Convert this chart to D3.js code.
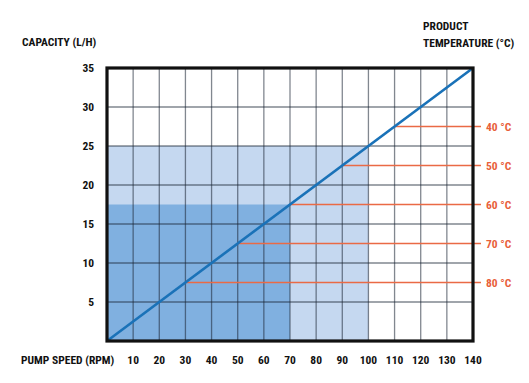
<!DOCTYPE html>
<html lang="en">
    <head>
        <meta charset="UTF-8" />
        <title>Pump capacity</title>
        <script src="https://d3js.org/d3.v7.min.js"></script>
        <style>
            body { margin: 0; background: #fff; }
            text {
                font-family: "Liberation Sans Narrow", "Arial Narrow", "Roboto Condensed", sans-serif;
                font-weight: bold;
                font-size: 11.5px;
                fill: #111;
            }
        </style>
    </head>
    <body>
        <div class="canvas"></div>
        <script>
            // data
            const speedTicks = [10, 20, 30, 40, 50, 60, 70, 80, 90, 100, 110, 120, 130, 140];
            const capacityTicks = [5, 10, 15, 20, 25, 30, 35];
            const pumpLine = [[0, 0], [140, 35]]; // rpm, L/h
            const temps = ["40 °C", "50 °C", "60 °C", "70 °C", "80 °C"];
            const tempSpeed = [110, 90, 70, 50, 30];
            const tempCapacity = [27.5, 22.5, 17.5, 12.5, 7.5];
            // shaded ranges [maxSpeed, maxCapacity]
            const zones = [
                { speed: 100, capacity: 25, color: "#c5d8f0" },
                { speed: 70, capacity: 17.5, color: "#80b0e0" },
            ];

            const width = 529;
            const height = 383;
            const [ml, mt, mr, mb] = [107, 68, 56, 42];

            const svg = d3
                .select(".canvas")
                .append("svg")
                .attr("width", width)
                .attr("height", height);

            const x = d3.scaleLinear().domain([0, 140]).range([ml, width - mr]);
            const y = d3.scaleLinear().domain([0, 35]).range([height - mb, mt]);

            // shaded zones
            svg.selectAll(".zone")
                .data(zones)
                .enter()
                .append("rect")
                .attr("x", x(0))
                .attr("y", (d) => y(d.capacity))
                .attr("width", (d) => x(d.speed) - x(0))
                .attr("height", (d) => y(0) - y(d.capacity))
                .attr("fill", (d) => d.color);

            // grid
            svg.selectAll(".vgrid")
                .data(speedTicks)
                .enter()
                .append("line")
                .attr("x1", (d) => x(d))
                .attr("x2", (d) => x(d))
                .attr("y1", y(0))
                .attr("y2", y(35))
                .attr("stroke", "#1a2533")
                .attr("stroke-opacity", 0.55)
                .attr("stroke-width", 1.3);

            svg.selectAll(".hgrid")
                .data(capacityTicks)
                .enter()
                .append("line")
                .attr("x1", x(0))
                .attr("x2", x(140))
                .attr("y1", (d) => y(d))
                .attr("y2", (d) => y(d))
                .attr("stroke", "#1a2533")
                .attr("stroke-opacity", 0.55)
                .attr("stroke-width", 1.3);

            // temperature lines
            const tempData = temps.map((t, i) => ({ label: t, speed: tempSpeed[i], cap: tempCapacity[i] }));
            svg.selectAll(".temp")
                .data(tempData)
                .enter()
                .append("line")
                .attr("x1", (d) => x(d.speed))
                .attr("x2", x(140) + 8)
                .attr("y1", (d) => y(d.cap))
                .attr("y2", (d) => y(d.cap))
                .attr("stroke", "#ea6a45")
                .attr("stroke-width", 1.3);

            svg.selectAll(".tempLabel")
                .data(tempData)
                .enter()
                .append("text")
                .attr("x", x(140) + 13)
                .attr("y", (d) => y(d.cap))
                .attr("dy", "0.36em")
                .style("fill", "#e8603a")
                .text((d) => d.label);

            // pump line
            svg.append("path")
                .attr("d", d3.line().x((d) => x(d[0])).y((d) => y(d[1]))(pumpLine))
                .attr("stroke", "#1a72b8")
                .attr("stroke-width", 2.6)
                .attr("fill", "none");

            // frame
            svg.append("rect")
                .attr("x", x(0))
                .attr("y", y(35))
                .attr("width", x(140) - x(0))
                .attr("height", y(0) - y(35))
                .attr("fill", "none")
                .attr("stroke", "#111")
                .attr("stroke-width", 3.2);

            // axis labels
            svg.selectAll(".xt")
                .data(speedTicks)
                .enter()
                .append("text")
                .attr("x", (d) => x(d))
                .attr("y", 360)
                .attr("dy", "0.36em")
                .attr("text-anchor", "middle")
                .text((d) => d);

            svg.selectAll(".yt")
                .data(capacityTicks)
                .enter()
                .append("text")
                .attr("x", 94)
                .attr("y", (d) => y(d))
                .attr("dy", "0.36em")
                .attr("text-anchor", "end")
                .text((d) => d);

            svg.append("text").attr("x", 21).attr("y", 360).attr("dy", "0.36em").text("PUMP SPEED (RPM)");
            svg.append("text").attr("x", 22).attr("y", 42).attr("dy", "0.36em").text("CAPACITY (L/H)");
            svg.append("text").attr("x", 423).attr("y", 26).attr("dy", "0.36em").text("PRODUCT");
            svg.append("text").attr("x", 423).attr("y", 43).attr("dy", "0.36em").text("TEMPERATURE (°C)");
        </script>
    </body>
</html>
